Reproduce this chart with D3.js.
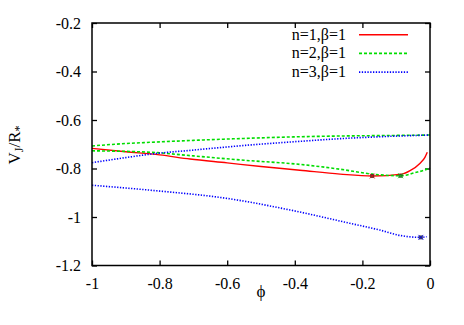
<!DOCTYPE html>
<html><head><meta charset="utf-8">
<script src="https://cdn.jsdelivr.net/npm/d3@7"></script>
<style>body{margin:0;background:#fff} svg text{font-family:"Liberation Serif","Times New Roman",Times,"DejaVu Serif",serif !important;}</style>
</head><body>
<svg id="c" width="464" height="325"></svg>
<script>
// ---- data ----
const xTicks = [-1, -0.8, -0.6, -0.4, -0.2, 0];
const xTickLabels = ["-1", "-0.8", "-0.6", "-0.4", "-0.2", "0"];
const yTicks = [-0.2, -0.4, -0.6, -0.8, -1, -1.2];
const yTickLabels = ["-0.2", "-0.4", "-0.6", "-0.8", "-1", "-1.2"];
const seriesNames = ["n=1,\u03b2=1", "n=2,\u03b2=1", "n=3,\u03b2=1"];

// n=1
const n1Phi = [-1, -0.9, -0.8, -0.71, -0.6, -0.5, -0.385, -0.266, -0.171, -0.083, -0.059, -0.030, -0.015, -0.008];
const n1Val = [-0.717, -0.731, -0.744, -0.761, -0.777, -0.792, -0.807, -0.823, -0.831, -0.823, -0.809, -0.779, -0.754, -0.733];
// n=2 upper / lower
const n2UpPhi = [-1, -0.9, -0.828, -0.7, -0.55, -0.385, -0.266, -0.13, 0];
const n2UpVal = [-0.707, -0.697, -0.692, -0.684, -0.676, -0.669, -0.666, -0.664, -0.662];
const n2LoPhi = [-1, -0.828, -0.7, -0.55, -0.385, -0.266, -0.171, -0.087, -0.044, -0.015, 0];
const n2LoVal = [-0.727, -0.733, -0.748, -0.766, -0.783, -0.803, -0.823, -0.830, -0.817, -0.806, -0.797];
// n=3 upper / lower
const n3UpPhi = [-1, -0.9, -0.828, -0.7, -0.55, -0.385, -0.266, -0.13, 0];
const n3UpVal = [-0.776, -0.755, -0.741, -0.724, -0.705, -0.688, -0.677, -0.668, -0.662];
const n3LoPhi = [-1, -0.808, -0.612, -0.414, -0.237, -0.148, -0.089, -0.027, -0.01];
const n3LoVal = [-0.869, -0.892, -0.921, -0.971, -1.026, -1.054, -1.076, -1.084, -1.081];
// markers
const markPhi = [-0.171, -0.087, -0.027];
const markVal = [-0.831, -0.830, -1.084];

// ---- layout ----
const L = 92, R = 430, T = 23, B = 265.5;
const svg = d3.select("#c");
const x = d3.scaleLinear().domain([-1, 0]).range([L, R]);
const y = d3.scaleLinear().domain([-1.2, -0.2]).range([B, T]);
const font = "Liberation Serif";
const colors = ["#ff0000", "#00dd00", "#0000ff"];
const dashes = [null, "3,2", "1.3,1.5"];

// axes (ticks inside, mirrored)
const tl = 5;
const gx = svg.append("g").attr("transform", `translate(0,${B})`)
  .call(d3.axisBottom(x).tickValues(xTicks).tickFormat((d, i) => xTickLabels[i]).tickSizeInner(-tl).tickSizeOuter(0).tickPadding(12));
const gxt = svg.append("g").attr("transform", `translate(0,${T})`)
  .call(d3.axisTop(x).tickValues(xTicks).tickFormat("").tickSizeInner(-tl).tickSizeOuter(0));
const gy = svg.append("g").attr("transform", `translate(${L},0)`)
  .call(d3.axisLeft(y).tickValues(yTicks).tickFormat((d, i) => yTickLabels[i]).tickSizeInner(-tl).tickSizeOuter(0).tickPadding(11));
const gyr = svg.append("g").attr("transform", `translate(${R},0)`)
  .call(d3.axisRight(y).tickValues(yTicks).tickFormat("").tickSizeInner(-tl).tickSizeOuter(0));
[gx, gxt, gy, gyr].forEach(g => {
  g.attr("font-family", font);
  g.select(".domain").remove();
  g.selectAll(".tick line").attr("stroke", "#000").attr("stroke-width", 1.3);
  g.selectAll("text").attr("font-size", 16).attr("fill", "#000");
});

// data lines
const line = d3.line().x(d => x(d[0])).y(d => y(d[1])).curve(d3.curveMonotoneX);
const zip = (a, b) => a.map((v, i) => [v, b[i]]);
const branches = [
  [0, zip(n1Phi, n1Val)],
  [1, zip(n2UpPhi, n2UpVal)],
  [1, zip(n2LoPhi, n2LoVal)],
  [2, zip(n3UpPhi, n3UpVal)],
  [2, zip(n3LoPhi, n3LoVal)]
];
branches.forEach(([s, pts]) => {
  svg.append("path").attr("d", line(pts)).attr("fill", "none")
    .attr("stroke", colors[s]).attr("stroke-width", s === 0 ? 1.4 : 1.6)
    .attr("stroke-dasharray", dashes[s]);
});

// markers
markPhi.forEach((p, i) => {
  const cx = x(p), cy = y(markVal[i]);
  svg.append("rect").attr("x", cx - 2).attr("y", cy - 2).attr("width", 4).attr("height", 4)
    .attr("fill", "#333").attr("opacity", 0.85);
  svg.append("path").attr("d", `M${cx-2.5},${cy-2.5}L${cx+2.5},${cy+2.5}M${cx-2.5},${cy+2.5}L${cx+2.5},${cy-2.5}`)
    .attr("stroke", colors[i]).attr("stroke-width", 0.8);
});

// frame
svg.append("rect").attr("x", L).attr("y", T).attr("width", R - L).attr("height", B - T)
  .attr("fill", "none").attr("stroke", "#000").attr("stroke-width", 1.5);

// legend
seriesNames.forEach((name, i) => {
  const ly = 34.7 + i * 18.7;
  svg.append("text").attr("x", 346).attr("y", ly + 5).attr("text-anchor", "end")
    .attr("font-family", font).attr("font-size", 16).text(name);
  svg.append("line").attr("x1", 359).attr("x2", 408).attr("y1", ly).attr("y2", ly)
    .attr("stroke", colors[i]).attr("stroke-width", i === 0 ? 1.4 : 1.6)
    .attr("stroke-dasharray", dashes[i]);
});

// axis titles
svg.append("text").attr("x", (L + R) / 2).attr("y", 297).attr("text-anchor", "middle")
  .attr("font-family", font).attr("font-size", 17).text("\u03d5");
const yl = svg.append("text").attr("transform", `translate(20,145) rotate(-90)`)
  .attr("text-anchor", "middle").attr("font-family", font).attr("font-size", 17);
yl.append("tspan").text("V");
yl.append("tspan").attr("font-size", 12).attr("dy", 3).text("J");
yl.append("tspan").attr("dy", -3).text("/R");
yl.append("tspan").attr("font-size", 12).attr("dy", 3).text("*");
</script>
</body></html>
